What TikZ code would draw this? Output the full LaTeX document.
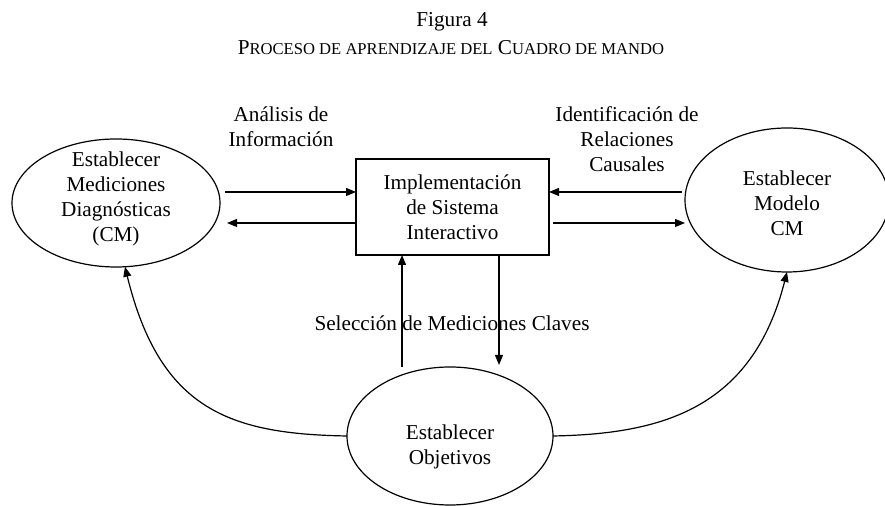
\documentclass[tikz,border=0pt]{standalone}
\usepackage{fontspec}
\setmainfont{Liberation Serif}
\usetikzlibrary{shapes.geometric,arrows.meta}
\newcommand\scsm[1]{{\fontsize{8.3}{10}\selectfont #1}}
\begin{document}
\begin{tikzpicture}[x=0.5pt,y=-0.5pt,
  every node/.style={font=\fontsize{10.6}{12.5}\selectfont},
  oval/.style={draw,ellipse,line width=0.6pt,inner sep=0pt,outer sep=0pt},
  lbl/.style={align=center,inner sep=0pt},
  arr/.style={line width=0.6pt,-{Triangle[length=5pt,width=4pt]}}]
\useasboundingbox (0,0) rectangle (885,506);

\node[lbl] (title) at (452,22) {Figura 4};
\node[lbl] (sub) at (451,48) {P\scsm{ROCESO DE APRENDIZAJE DEL} C\scsm{UADRO DE MANDO}};

\node[oval,minimum width=104pt,minimum height=64pt,
  label={[lbl,yshift=2pt]center:Establecer\\Mediciones\\Diagnósticas\\(CM)}] (L) at (116,203) {};
\node[oval,minimum width=102pt,minimum height=72pt,
  label={[lbl,yshift=-1.75pt]center:Establecer\\Modelo\\CM}] (R) at (787,200) {};
\node[oval,minimum width=103pt,minimum height=69pt,
  label={[lbl,yshift=-5.5pt]center:Establecer\\Objetivos}] (O) at (450,436) {};
\node[draw,line width=0.6pt,minimum width=96.5pt,minimum height=48pt,align=center,inner sep=0pt,outer sep=0pt] (B) at (452.5,207) {Implementación\\de Sistema\\Interactivo};

\node[lbl] (t1) at (281,127) {Análisis de\\Información};
\node[lbl] (t2) at (627,139) {Identificación de\\Relaciones\\Causales};
\node[lbl] (t3) at (452,323) {Selección de Mediciones Claves};

\draw[arr,shorten <=2.5pt] (L.east |- 0,192) -- (B.west |- 0,192);
\draw[arr,shorten >=3.5pt] (B.west |- 0,223) -- (L.east |- 0,223);
\draw[arr,shorten <=1.5pt] (R.west |- 0,192) -- (B.east |- 0,192);
\draw[arr,shorten <=2pt] (B.east |- 0,223) -- (R.west |- 0,223);
\draw[arr] (O.north -| 402,0) -- (B.south -| 402,0);
\draw[arr,shorten >=1pt] (B.south -| 499,0) -- (O.north -| 499,0);

\draw[arr] (O.west) .. controls (230,434) and (160,410) .. (L.-82);
\draw[arr] (O.east) .. controls (660,434) and (752,410) .. (R.south);
\end{tikzpicture}
\end{document}
